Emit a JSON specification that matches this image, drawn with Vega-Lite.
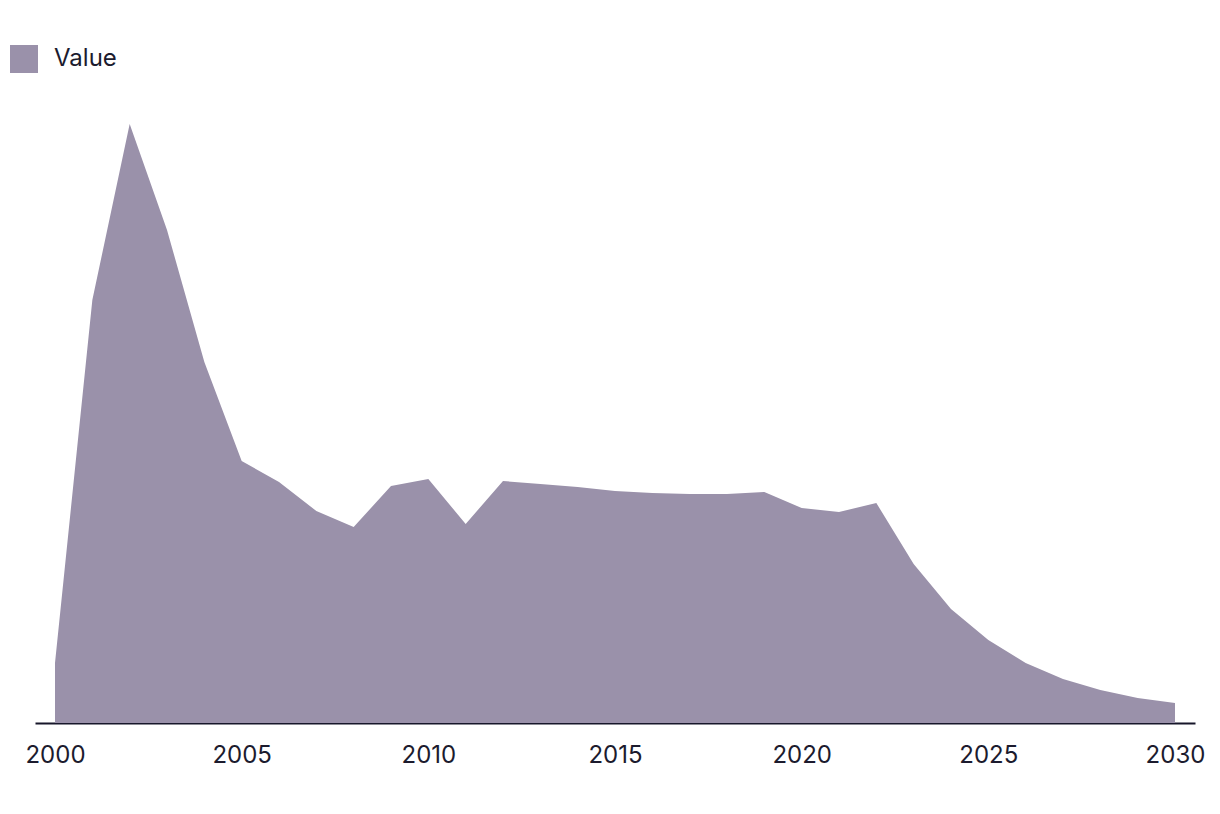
{
  "$schema": "https://vega.github.io/schema/vega-lite/v6.json",
  "width": 1160,
  "height": 623,
  "autosize": "none",
  "padding": {"left": 35, "top": 100, "right": 25, "bottom": 91},
  "background": "white",
  "config": {"view": {"stroke": null}, "font": "Inter"},
  "data": {"values": [
    {"year": 2000, "value": 60, "series": "Value"},
    {"year": 2001, "value": 423, "series": "Value"},
    {"year": 2002, "value": 599, "series": "Value"},
    {"year": 2003, "value": 493, "series": "Value"},
    {"year": 2004, "value": 361, "series": "Value"},
    {"year": 2005, "value": 262, "series": "Value"},
    {"year": 2006, "value": 241, "series": "Value"},
    {"year": 2007, "value": 212, "series": "Value"},
    {"year": 2008, "value": 196, "series": "Value"},
    {"year": 2009, "value": 237, "series": "Value"},
    {"year": 2010, "value": 244, "series": "Value"},
    {"year": 2011, "value": 199, "series": "Value"},
    {"year": 2012, "value": 242, "series": "Value"},
    {"year": 2013, "value": 239, "series": "Value"},
    {"year": 2014, "value": 236, "series": "Value"},
    {"year": 2015, "value": 232, "series": "Value"},
    {"year": 2016, "value": 230, "series": "Value"},
    {"year": 2017, "value": 229, "series": "Value"},
    {"year": 2018, "value": 229, "series": "Value"},
    {"year": 2019, "value": 231, "series": "Value"},
    {"year": 2020, "value": 215, "series": "Value"},
    {"year": 2021, "value": 211, "series": "Value"},
    {"year": 2022, "value": 220, "series": "Value"},
    {"year": 2023, "value": 159, "series": "Value"},
    {"year": 2024, "value": 114, "series": "Value"},
    {"year": 2025, "value": 83, "series": "Value"},
    {"year": 2026, "value": 60, "series": "Value"},
    {"year": 2027, "value": 44, "series": "Value"},
    {"year": 2028, "value": 33, "series": "Value"},
    {"year": 2029, "value": 25, "series": "Value"},
    {"year": 2030, "value": 20, "series": "Value"}
  ]},
  "mark": {"type": "area", "opacity": 1},
  "encoding": {
    "x": {
      "field": "year", "type": "quantitative",
      "scale": {"domain": [1999.464, 2030.536], "nice": false, "zero": false},
      "axis": {
        "title": null, "values": [2000, 2005, 2010, 2015, 2020, 2025, 2030], "format": "d",
        "grid": false, "ticks": false, "domainColor": "#17162a", "domainWidth": 2,
        "labelFontSize": 24, "labelColor": "#1c1b2e", "labelPadding": 20, "labelFont": "Inter",
        "labelFlush": false
      }
    },
    "y": {
      "field": "value", "type": "quantitative",
      "scale": {"domain": [0, 623], "nice": false},
      "axis": null
    },
    "color": {
      "field": "series", "type": "nominal",
      "scale": {"range": ["#9a91aa"]},
      "legend": {
        "title": null, "orient": "none", "legendX": -26, "legendY": -56,
        "symbolType": "square", "symbolSize": 784, "symbolOpacity": 1,
        "labelFontSize": 24, "labelColor": "#1c1b2e", "labelFont": "Inter", "labelOffset": 15
      }
    }
  }
}
